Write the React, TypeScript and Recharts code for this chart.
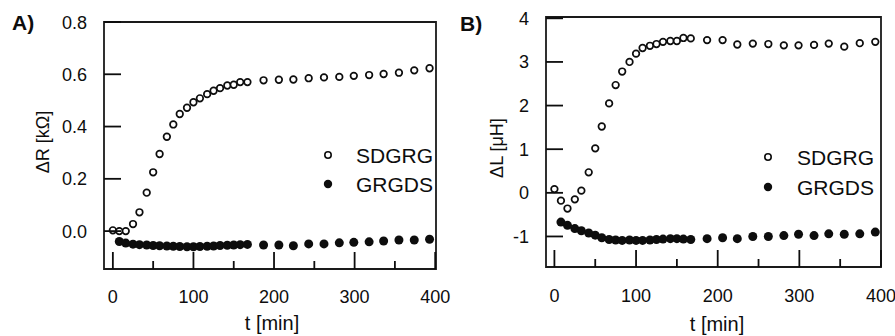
import React from 'react';
import { ScatterChart, Scatter, XAxis, YAxis, ReferenceArea } from 'recharts';

// time points (min)
const timeMin = [0, 8, 16, 25, 33, 42, 50, 58, 67, 75, 83, 92, 100, 108, 117, 125, 133, 142, 150, 158, 167, 187, 206, 224, 243, 262, 281, 299, 318, 336, 355, 374, 393];

// Panel A: ΔR [kΩ]
const sdgrgR = [0.003, 0.0, 0.0, 0.027, 0.072, 0.147, 0.225, 0.295, 0.361, 0.408, 0.448, 0.472, 0.493, 0.508, 0.524, 0.537, 0.547, 0.557, 0.56, 0.57, 0.57, 0.577, 0.579, 0.58, 0.585, 0.588, 0.59, 0.594, 0.597, 0.601, 0.606, 0.615, 0.623];
const grgdsR = [-0.04, -0.046, -0.05, -0.052, -0.053, -0.055, -0.056, -0.057, -0.058, -0.059, -0.06, -0.06, -0.059, -0.058, -0.057, -0.055, -0.054, -0.053, -0.052, -0.051, -0.053, -0.053, -0.056, -0.049, -0.049, -0.045, -0.043, -0.041, -0.038, -0.034, -0.034, -0.031];

// Panel B: ΔL [μH]
const sdgrgL = [0.085, -0.18, -0.36, -0.15, 0.05, 0.47, 1.02, 1.52, 2.05, 2.47, 2.78, 3.0, 3.19, 3.32, 3.37, 3.41, 3.46, 3.48, 3.48, 3.55, 3.54, 3.5, 3.5, 3.4, 3.42, 3.41, 3.38, 3.38, 3.39, 3.42, 3.35, 3.43, 3.46];
const grgdsL = [-0.67, -0.745, -0.82, -0.87, -0.92, -0.97, -1.03, -1.07, -1.08, -1.09, -1.08, -1.09, -1.09, -1.08, -1.07, -1.06, -1.05, -1.05, -1.06, -1.07, -1.05, -1.03, -1.05, -1.0, -1.0, -0.98, -0.95, -0.98, -0.94, -0.95, -0.94, -0.9];

const xTicks = [0, 50, 100, 150, 200, 250, 300, 350, 400];
const yTicksA = [0, 0.2, 0.4, 0.6, 0.8];
const yTicksB = [-1, 0, 1, 2, 3, 4];
const seriesNames = ['SDGRG', 'GRGDS'];

const xDomainA: [number, number] = [-11, 401];
const yDomainA: [number, number] = [-0.145, 0.8];
const xDomainB: [number, number] = [-10.3, 400];
const yDomainB: [number, number] = [-1.7, 4.03];

const toPts = (vals: number[], offset: number) => vals.map((v, i) => ({ t: timeMin[i + offset], v }));

const INK = '#0d0d0d';
const FONT = '"Liberation Sans", Arial, Helvetica, sans-serif';

const OpenDot = (p: any) => <circle cx={p.cx} cy={p.cy} r={3.3} fill="#fff" stroke={INK} strokeWidth={1.7} />;
const FilledDot = (p: any) => <circle cx={p.cx} cy={p.cy} r={4.5} fill={INK} stroke="none" />;

const makeXTick = (labelDy: number) => (props: any) => {
  const { x, y, payload } = props;
  const v = payload.value;
  const major = Math.round(v) % 100 === 0;
  return (
    <g>
      <line x1={x} x2={x} y1={y} y2={y - (major ? 17 : 8)} stroke={INK} strokeWidth={1.8} />
      {major && (
        <text x={x} y={y + labelDy} textAnchor="middle" fontSize={18} fill={INK} fontFamily={FONT}>
          {v}
        </text>
      )}
    </g>
  );
};

const makeYTick = (fmt: (v: number) => string) => (props: any) => {
  const { x, y, payload } = props;
  return (
    <g>
      <line x1={x} x2={x + 17} y1={y} y2={y} stroke={INK} strokeWidth={1.8} />
      <text x={x - 17} y={y + 6.5} textAnchor="end" fontSize={18} fill={INK} fontFamily={FONT}>
        {fmt(payload.value)}
      </text>
    </g>
  );
};

function Panel(props: {
  width: number;
  margin: { top: number; right: number; bottom: number; left: number };
  xDomain: [number, number];
  yDomain: [number, number];
  yTicks: number[];
  fmt: (v: number) => string;
  open: number[];
  filled: number[];
  labelDy: number;
}) {
  const { width, margin, xDomain, yDomain, yTicks, fmt, open, filled, labelDy } = props;
  return (
    <ScatterChart width={width} height={336} margin={margin}>
      <XAxis
        type="number"
        dataKey="t"
        domain={xDomain}
        allowDataOverflow
        ticks={xTicks}
        interval={0}
        tickSize={0}
        tickMargin={0}
        axisLine={false}
        tickLine={false}
        tick={makeXTick(labelDy)}
        height={30}
      />
      <YAxis
        type="number"
        dataKey="v"
        domain={yDomain}
        allowDataOverflow
        ticks={yTicks}
        interval={0}
        tickSize={0}
        tickMargin={0}
        axisLine={false}
        tickLine={false}
        tick={makeYTick(fmt)}
        width={60}
      />
      <ReferenceArea x1={xDomain[0]} x2={xDomain[1]} y1={yDomain[0]} y2={yDomain[1]} fill="none" stroke="#1a1a1a" strokeWidth={1.8} ifOverflow="visible" />
      <Scatter name={seriesNames[0]} data={toPts(open, 0)} shape={OpenDot} isAnimationActive={false} />
      <Scatter name={seriesNames[1]} data={toPts(filled, 1)} shape={FilledDot} isAnimationActive={false} />
    </ScatterChart>
  );
}

export default function App() {
  return (
    <div style={{ position: 'absolute', left: 0, top: 0, width: 895, height: 336, background: '#fff', overflow: 'hidden' }}>
      <div style={{ position: 'absolute', left: 0, top: 0 }}>
        <Panel
          width={451}
          margin={{ top: 22, right: 15, bottom: 37, left: 44 }}
          xDomain={xDomainA}
          yDomain={yDomainA}
          yTicks={yTicksA}
          fmt={(v) => v.toFixed(1)}
          open={sdgrgR}
          filled={grgdsR}
          labelDy={33.5}
        />
      </div>
      <div style={{ position: 'absolute', left: 451, top: 0 }}>
        <Panel
          width={444}
          margin={{ top: 17, right: 14, bottom: 39, left: 35 }}
          xDomain={xDomainB}
          yDomain={yDomainB}
          yTicks={yTicksB}
          fmt={(v) => String(v)}
          open={sdgrgL}
          filled={grgdsL}
          labelDy={34.5}
        />
      </div>
      <svg width={895} height={336} style={{ position: 'absolute', left: 0, top: 0, pointerEvents: 'none' }} fontFamily={FONT} fill={INK}>
        <text x={12} y={30} fontSize={21} fontWeight="bold">A)</text>
        <text x={460} y={31} fontSize={21} fontWeight="bold">B)</text>
        <text transform="translate(48.5,142) rotate(-90)" textAnchor="middle" fontSize={18}>ΔR [kΩ]</text>
        <text transform="translate(503,148) rotate(-90)" textAnchor="middle" fontSize={18}>ΔL [μH]</text>
        <text x={272} y={330} textAnchor="middle" fontSize={20}>t [min]</text>
        <text x={717} y={331} textAnchor="middle" fontSize={20}>t [min]</text>
        {/* legend A */}
        <circle cx={328} cy={155} r={3.2} fill="#fff" stroke={INK} strokeWidth={1.6} />
        <text x={356} y={163} fontSize={21}>{seriesNames[0]}</text>
        <circle cx={328} cy={184} r={4.2} fill={INK} />
        <text x={356} y={192} fontSize={21}>{seriesNames[1]}</text>
        {/* legend B */}
        <circle cx={768} cy={157} r={3.2} fill="#fff" stroke={INK} strokeWidth={1.6} />
        <text x={797} y={165} fontSize={21}>{seriesNames[0]}</text>
        <circle cx={768} cy={187} r={4.2} fill={INK} />
        <text x={797} y={195} fontSize={21}>{seriesNames[1]}</text>
      </svg>
    </div>
  );
}
